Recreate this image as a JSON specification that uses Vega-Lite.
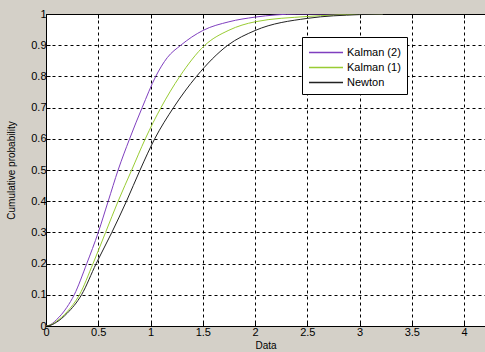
{
  "$schema": "https://vega.github.io/schema/vega-lite/v6.json",
  "autosize": "none",
  "width": 439,
  "height": 312,
  "padding": {"left": 46, "top": 14, "right": 0, "bottom": 26},
  "background": "#d4d0c8",
  "config": {
    "view": {"fill": "white", "stroke": null},
    "font": "Liberation Sans",
    "axis": {
      "labelFont": "Liberation Sans",
      "labelFontSize": 11,
      "labelColor": "#000000",
      "labelOverlap": false,
      "titleFont": "Liberation Sans",
      "titleFontSize": 10,
      "titleFontWeight": "normal",
      "titleColor": "#000000",
      "domainColor": "#000000",
      "tickColor": "#000000",
      "tickSize": -4,
      "gridColor": "#000000",
      "gridDash": [3, 3],
      "gridOpacity": 1,
      "gridWidth": 1
    }
  },
  "data": {
    "values": [
      {"series": "Kalman (2)", "x": 0, "y": 0},
      {"series": "Kalman (2)", "x": 0.03, "y": 0.002},
      {"series": "Kalman (2)", "x": 0.1, "y": 0.02},
      {"series": "Kalman (2)", "x": 0.2, "y": 0.06},
      {"series": "Kalman (2)", "x": 0.27, "y": 0.1},
      {"series": "Kalman (2)", "x": 0.39, "y": 0.2},
      {"series": "Kalman (2)", "x": 0.5, "y": 0.3},
      {"series": "Kalman (2)", "x": 0.595, "y": 0.4},
      {"series": "Kalman (2)", "x": 0.69, "y": 0.5},
      {"series": "Kalman (2)", "x": 0.8, "y": 0.6},
      {"series": "Kalman (2)", "x": 0.92, "y": 0.7},
      {"series": "Kalman (2)", "x": 1.05, "y": 0.8},
      {"series": "Kalman (2)", "x": 1.16, "y": 0.86},
      {"series": "Kalman (2)", "x": 1.29, "y": 0.9},
      {"series": "Kalman (2)", "x": 1.5, "y": 0.947},
      {"series": "Kalman (2)", "x": 1.75, "y": 0.975},
      {"series": "Kalman (2)", "x": 2.0, "y": 0.99},
      {"series": "Kalman (2)", "x": 2.2, "y": 0.997},
      {"series": "Kalman (2)", "x": 2.4, "y": 1.0},
      {"series": "Kalman (2)", "x": 3.22, "y": 1.0},
      {"series": "Kalman (1)", "x": 0, "y": 0},
      {"series": "Kalman (1)", "x": 0.03, "y": 0.002},
      {"series": "Kalman (1)", "x": 0.1, "y": 0.015},
      {"series": "Kalman (1)", "x": 0.2, "y": 0.045},
      {"series": "Kalman (1)", "x": 0.32, "y": 0.1},
      {"series": "Kalman (1)", "x": 0.45, "y": 0.2},
      {"series": "Kalman (1)", "x": 0.57, "y": 0.3},
      {"series": "Kalman (1)", "x": 0.69, "y": 0.4},
      {"series": "Kalman (1)", "x": 0.82, "y": 0.5},
      {"series": "Kalman (1)", "x": 0.95, "y": 0.6},
      {"series": "Kalman (1)", "x": 1.1, "y": 0.7},
      {"series": "Kalman (1)", "x": 1.28, "y": 0.8},
      {"series": "Kalman (1)", "x": 1.52, "y": 0.9},
      {"series": "Kalman (1)", "x": 1.75, "y": 0.948},
      {"series": "Kalman (1)", "x": 2.0, "y": 0.975},
      {"series": "Kalman (1)", "x": 2.5, "y": 0.992},
      {"series": "Kalman (1)", "x": 3.0, "y": 0.999},
      {"series": "Kalman (1)", "x": 3.22, "y": 1.0},
      {"series": "Newton", "x": 0, "y": 0},
      {"series": "Newton", "x": 0.03, "y": 0.001},
      {"series": "Newton", "x": 0.1, "y": 0.012},
      {"series": "Newton", "x": 0.2, "y": 0.04},
      {"series": "Newton", "x": 0.34, "y": 0.1},
      {"series": "Newton", "x": 0.48, "y": 0.2},
      {"series": "Newton", "x": 0.63, "y": 0.3},
      {"series": "Newton", "x": 0.77, "y": 0.4},
      {"series": "Newton", "x": 0.9, "y": 0.5},
      {"series": "Newton", "x": 1.04, "y": 0.6},
      {"series": "Newton", "x": 1.22, "y": 0.7},
      {"series": "Newton", "x": 1.44, "y": 0.8},
      {"series": "Newton", "x": 1.74, "y": 0.9},
      {"series": "Newton", "x": 2.0, "y": 0.947},
      {"series": "Newton", "x": 2.5, "y": 0.986},
      {"series": "Newton", "x": 3.0, "y": 0.998},
      {"series": "Newton", "x": 3.22, "y": 1.0}
    ]
  },
  "resolve": {"axis": {"x": "independent"}},
  "layer": [
    {
      "mark": {"type": "line", "strokeWidth": 1, "clip": true, "interpolate": "monotone"},
      "encoding": {
        "x": {
          "field": "x", "type": "quantitative",
          "scale": {"domain": [0, 4.2], "nice": false, "zero": false},
          "axis": {"title": "Data", "values": [0, 0.5, 1, 1.5, 2, 2.5, 3, 3.5, 4], "format": "~g", "labelPadding": 4, "titlePadding": 3, "labelFlush": false}
        },
        "y": {
          "field": "y", "type": "quantitative",
          "scale": {"domain": [0, 1], "nice": false},
          "axis": {"title": "Cumulative probability", "values": [0, 0.1, 0.2, 0.3, 0.4, 0.5, 0.6, 0.7, 0.8, 0.9, 1], "format": "~g", "labelPadding": 4, "titlePadding": 14, "labelFlush": false}
        },
        "color": {
          "field": "series", "type": "nominal",
          "scale": {"domain": ["Kalman (2)", "Kalman (1)", "Newton"], "range": ["#7f3fbf", "#99cc33", "#222222"]},
          "legend": {
            "title": null,
            "orient": "none",
            "legendX": 256,
            "legendY": 23,
            "symbolType": "M-1,0H3",
            "symbolSize": 289,
            "symbolStrokeWidth": 1.5,
            "labelFont": "Liberation Sans",
            "labelFontSize": 11,
            "labelColor": "#000000",
            "rowPadding": 0,
            "padding": 6,
            "strokeColor": "#000000",
            "fillColor": "white",
            "labelOffset": 20
          }
        }
      }
    },
    {
      "mark": {"type": "rule", "strokeOpacity": 0},
      "encoding": {
        "x": {
          "datum": 0, "type": "quantitative",
          "axis": {"orient": "top", "title": null, "labels": false, "grid": false, "values": [0, 0.5, 1, 1.5, 2, 2.5, 3, 3.5, 4]}
        },
        "x2": {"datum": 4.2},
        "y": {
          "datum": 1, "type": "quantitative",
          "axis": {"title": "Cumulative probability", "values": [0, 0.1, 0.2, 0.3, 0.4, 0.5, 0.6, 0.7, 0.8, 0.9, 1], "format": "~g", "labelPadding": 4, "titlePadding": 14, "labelFlush": false}
        }
      }
    }
  ]
}
